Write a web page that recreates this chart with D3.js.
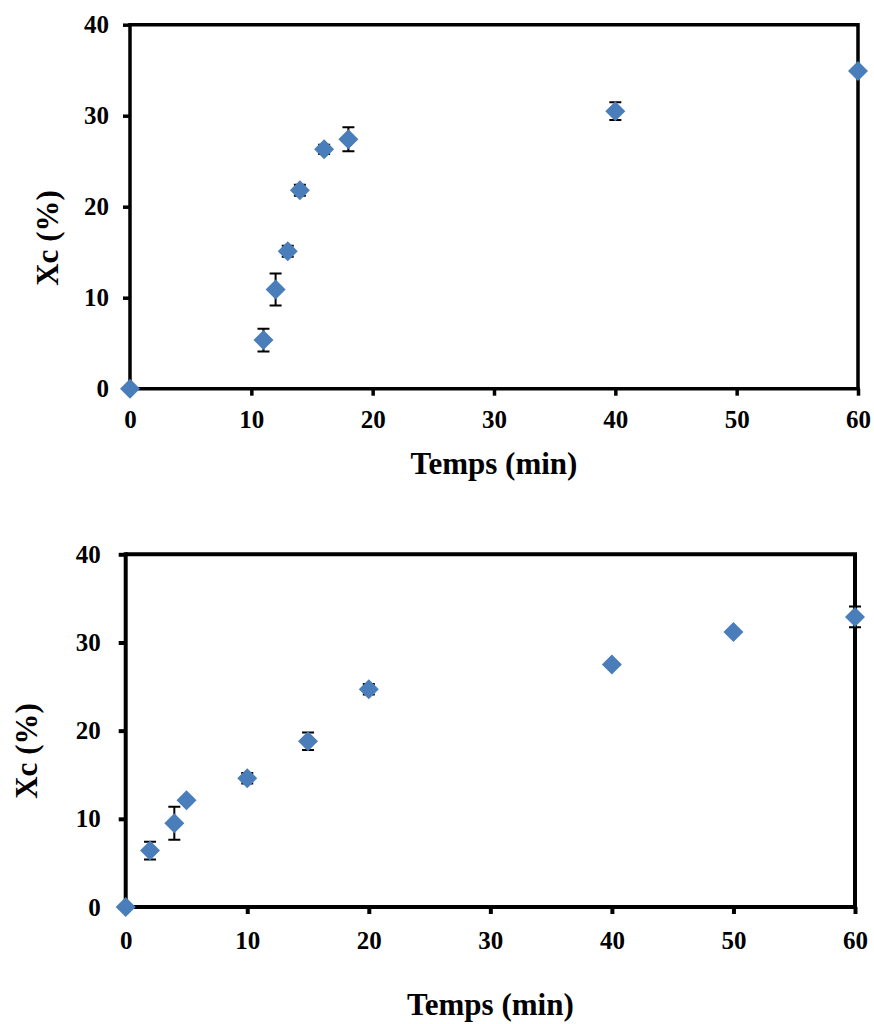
<!DOCTYPE html>
<html>
<head>
<meta charset="utf-8">
<script src="https://cdn.jsdelivr.net/npm/d3@7"></script>
<style>
  html, body { margin: 0; padding: 0; background: #fff; }
  svg text { font-family: "Liberation Serif", "Times New Roman", serif; font-weight: bold; fill: #000; }
</style>
</head>
<body>
<svg id="chart" width="874" height="1024"></svg>
<script>
// ---- Data ----
const xTicks = [0, 10, 20, 30, 40, 50, 60];
const yTicks = [0, 10, 20, 30, 40];
const xLabel = "Temps (min)";
const yLabel = "Xc (%)";

// Top chart
const timeA  = [0, 11, 12, 13, 14, 16, 18, 40, 60];
const xcA    = [0, 5.35, 10.9, 15.1, 21.8, 26.3, 27.4, 30.5, 34.9];
const errA   = [0, 1.25, 1.75, 0.6, 0.6, 0.5, 1.32, 0.97, 0];

// Bottom chart
const timeB  = [0, 2, 4, 5, 10, 15, 20, 40, 50, 60];
const xcB    = [0, 6.4, 9.5, 12.1, 14.6, 18.8, 24.7, 27.5, 31.2, 32.9];
const errB   = [0, 1.0, 1.87, 0.3, 0.6, 1.0, 0.6, 0, 0, 1.17];

const svg = d3.select("#chart");
svg.append("rect").attr("width", 874).attr("height", 1024).attr("fill", "#fff");

function drawPanel(cfg) {
  const x = d3.scaleLinear().domain([0, 60]).range([cfg.left, cfg.right]);
  const y = d3.scaleLinear().domain([0, 40]).range([cfg.bottom, cfg.top]);
  const g = svg.append("g");
  const data = cfg.t.map((t, i) => ({ t, v: cfg.v[i], e: cfg.e[i] }));

  // frame (top & right)
  g.append("path")
    .attr("d", `M${cfg.left},${cfg.top}H${cfg.right}V${cfg.bottom}`)
    .attr("fill", "none").attr("stroke", "#000").attr("stroke-width", cfg.sw);

  // x axis
  const xa = g.append("g").attr("transform", `translate(0,${cfg.bottom})`)
    .call(d3.axisBottom(x).tickValues(xTicks).tickSize(7).tickSizeOuter(0).tickPadding(cfg.xPad));
  // y axis
  const ya = g.append("g").attr("transform", `translate(${cfg.left},0)`)
    .call(d3.axisLeft(y).tickValues(yTicks).tickSize(7).tickSizeOuter(0).tickPadding(cfg.yPad));
  [xa, ya].forEach(a => {
    a.attr("font-family", null).attr("font-size", null);
    a.select(".domain").attr("stroke", "#000").attr("stroke-width", cfg.sw);
    a.selectAll(".tick line").attr("stroke", "#000").attr("stroke-width", cfg.sw);
    a.selectAll(".tick text")
      .style("font-family", '"Liberation Serif", "Times New Roman", serif')
      .style("font-weight", "bold").style("font-size", "25px").attr("fill", "#000");
  });
  // extend domain paths to corners
  xa.select(".domain").attr("d", `M${cfg.left - cfg.sw/2},0H${cfg.right + cfg.sw/2}`);
  ya.select(".domain").attr("d", `M0,${cfg.bottom}V${cfg.top - cfg.sw/2}`);

  // axis titles
  g.append("text")
    .attr("x", (cfg.left + cfg.right) / 2).attr("y", cfg.xTitleY)
    .attr("text-anchor", "middle").style("font-size", "31px").text(xLabel);
  g.append("text")
    .attr("transform", `translate(${cfg.yTitleX},${cfg.yTitleCY}) rotate(-90)`)
    .attr("text-anchor", "middle").style("font-size", "31px").text(yLabel);

  // error bars
  const eb = g.append("g").attr("stroke", "#000").attr("stroke-width", 2).attr("fill", "none");
  data.filter(d => d.e > 0).forEach(d => {
    const cx = x(d.t), y1 = y(d.v + d.e), y2 = y(d.v - d.e);
    eb.append("path").attr("d", `M${cx},${y1}V${y2}M${cx - 6},${y1}H${cx + 6}M${cx - 6},${y2}H${cx + 6}`);
  });

  // markers (diamonds)
  const sym = d3.symbol().type(d3.symbolSquare).size(200);
  g.append("g").selectAll("path").data(data).join("path")
    .attr("d", sym)
    .attr("transform", d => `translate(${x(d.t)},${y(d.v)}) rotate(45)`)
    .attr("fill", "#4a7ebb");
}

drawPanel({
  t: timeA, v: xcA, e: errA,
  left: 130, right: 858, top: 24.7, bottom: 388.7, sw: 3.5,
  xPad: 15, yPad: 14, xTitleY: 474, yTitleX: 58, yTitleCY: 238
});

drawPanel({
  t: timeB, v: xcB, e: errB,
  left: 125.7, right: 855, top: 554.3, bottom: 907, sw: 4,
  xPad: 17, yPad: 18, xTitleY: 1015, yTitleX: 37, yTitleCY: 751
});
</script>
</body>
</html>
